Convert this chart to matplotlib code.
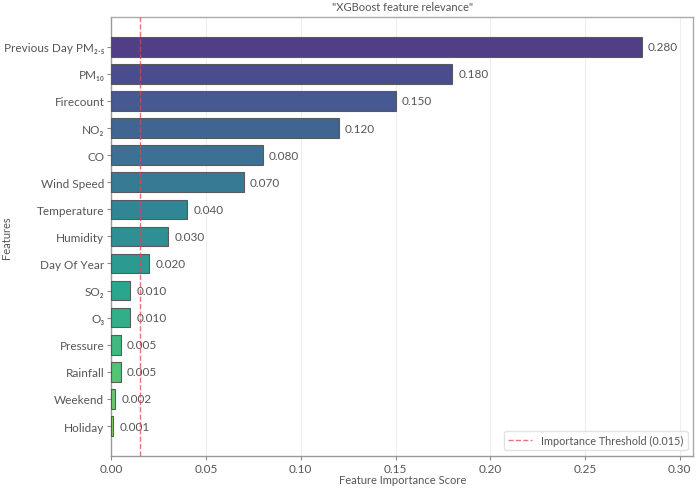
import matplotlib.pyplot as plt
import numpy as np

plt.rcParams['font.family'] = ['Lato', 'DejaVu Sans']

# --- data ---
features = ["Previous Day PM₂.₅", "PM₁₀", "Firecount", "NO₂", "CO", "Wind Speed",
            "Temperature", "Humidity", "Day Of Year", "SO₂", "O₃", "Pressure",
            "Rainfall", "Weekend", "Holiday"]
importance = [0.280, 0.180, 0.150, 0.120, 0.080, 0.070, 0.040, 0.030, 0.020,
              0.010, 0.010, 0.005, 0.005, 0.002, 0.001]
threshold = 0.015

txt = '#555555'
couleurs = plt.cm.viridis(np.linspace(0.15, 0.8, len(features)))

fig, ax = plt.subplots(figsize=(7, 4.89), dpi=100)
fig.subplots_adjust(left=0.159, right=0.99, top=0.963, bottom=0.066)

pos = np.arange(len(features))
bars = ax.barh(pos, importance, height=0.72, color=couleurs, alpha=0.95,
               edgecolor='#555555', linewidth=0.8, zorder=3)
ax.invert_yaxis()
ax.set_yticks(pos)
ax.set_yticklabels(features)

for b, v in zip(bars, importance):
    ax.text(b.get_width() + 0.0032, b.get_y() + b.get_height() / 2, f"{v:.3f}",
            va='center', ha='left', fontsize=8.5, color=txt, zorder=4)

ax.axvline(threshold, color='#e8414f', linestyle='--', linewidth=1, alpha=0.75,
           label=f"Importance Threshold ({threshold})", zorder=5)

ax.set_xlim(0, 0.307)
ax.set_xticks([0, 0.05, 0.10, 0.15, 0.20, 0.25, 0.30])
ax.set_xticklabels(["0.00", "0.05", "0.10", "0.15", "0.20", "0.25", "0.30"])
ax.grid(axis='x', color='#eeeeee', linewidth=0.8, zorder=0)
ax.set_axisbelow(True)

for s in ax.spines.values():
    s.set_color('#aaaaaa')
    s.set_linewidth(1)
ax.spines['left'].set_color('#999999')
ax.spines['bottom'].set_color('#999999')

ax.tick_params(colors=txt, length=3, pad=2, color='#888888')
ax.tick_params(axis='x', labelsize=8.5)
ax.tick_params(axis='y', labelsize=8.5)
ax.set_xlabel("Feature Importance Score", color=txt, fontsize=8)
ax.set_ylabel("Features", color=txt, fontsize=8)
ax.xaxis.set_label_coords(0.5, -0.042)
ax.yaxis.set_label_coords(-0.171, 0.5)
ax.set_title('"XGBoost feature relevance"', color=txt, fontsize=8, pad=5)

leg = ax.legend(loc='lower right', fontsize=7.8, frameon=True, handlelength=2.2)
leg.get_frame().set_edgecolor('#dddddd')
for t in leg.get_texts():
    t.set_color(txt)

fig.savefig("out.png", dpi=100)
